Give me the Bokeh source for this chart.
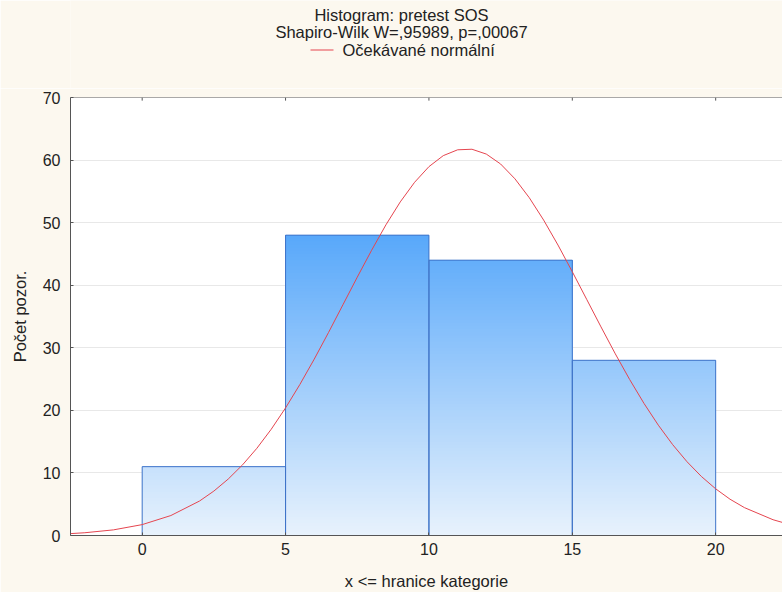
from bokeh.plotting import figure
from bokeh.layouts import column
from bokeh.models import LinearAxis, FixedTicker, Span
from bokeh.core.properties import value
from bokeh.embed import file_html
from bokeh.resources import INLINE

# ---- data ----
bin_left = [0, 5, 10, 15]
bin_right = [5, 10, 15, 20]
counts = [11, 48, 44, 28]

curve_x = [-2.5, -2, -1, 0, 1, 2, 2.5, 3, 3.5, 4, 4.5, 5, 5.5, 6, 6.5, 7, 7.5, 8, 8.5, 9, 9.5,
           10, 10.5, 11, 11.5, 12, 12.5, 13, 13.5, 14, 14.5, 15, 15.5, 16, 16.5, 17, 17.5,
           18, 18.5, 19, 19.5, 20, 20.5, 21, 22, 22.5]
curve_y = [0.30, 0.44, 0.90, 1.74, 3.19, 5.51, 7.10, 9.02, 11.29, 13.94, 16.98, 20.39, 24.14,
           28.19, 32.46, 36.87, 41.28, 45.58, 49.65, 53.31, 56.45, 58.95, 60.71, 61.64, 61.73,
           60.96, 59.37, 57.00, 53.98, 50.41, 46.42, 42.15, 37.75, 33.34, 29.03, 24.93, 21.11,
           17.63, 14.52, 11.79, 9.44, 7.46, 5.80, 4.46, 2.52, 1.86]

x_ticks = [0, 5, 10, 15, 20]
y_ticks = [0, 10, 20, 30, 40, 50, 60, 70]

title1 = "Histogram: pretest SOS"
title2 = "Shapiro-Wilk W=,95989, p=,00067"
legend_label = "Očekávané normální"
x_label = "x <= hranice kategorie"
y_label = "Počet pozor."

FONT = "Liberation Sans"
TXT = "#222222"
BG = "#fcf8ef"
RED = "#e5454f"
AX = "#555555"
FS_T = "16.5px"
FS_TICK = "16px"

W = 782
LEFT = 70
HEAD_H = 88
Y_MAX = 70

# ---- header (titles + legend), coordinates in page pixels ----
h = figure(width=W, height=HEAD_H, x_range=(LEFT, W), y_range=(0, HEAD_H),
           output_backend="svg", toolbar_location=None,
           min_border_left=LEFT, min_border_right=0, min_border_top=0, min_border_bottom=0,
           x_axis_location=None, y_axis_location=None)
h.grid.visible = False
h.outline_line_color = None
h.background_fill_color = BG
h.border_fill_color = BG
h.text(x=[401, 401], y=[HEAD_H - 14, HEAD_H - 31], text=[title1, title2],
       text_align="center", text_baseline="middle", text_font=value(FONT),
       text_font_size=FS_T, text_color=TXT)
h.text(x=[342], y=[HEAD_H - 49], text=[legend_label], text_align="left",
       text_baseline="middle", text_font=value(FONT), text_font_size=FS_T, text_color=TXT)
h.line(x=[310, 333], y=[HEAD_H - 49.5, HEAD_H - 49.5], line_color=RED, line_width=1)

# ---- main histogram ----
p = figure(width=W, height=592 - HEAD_H, x_range=(-2.5, 22.33), y_range=(0, Y_MAX),
           output_backend="svg", toolbar_location=None,
           min_border_left=LEFT, min_border_right=0, min_border_top=9, min_border_bottom=56,
           x_axis_location=None, y_axis_location=None)
p.background_fill_color = "white"
p.border_fill_color = BG
p.outline_line_color = None

# gradient-filled bars: overlapping slices coloured by height
c_lo = (232, 242, 252)
c_hi = (88, 168, 250)
def col(yv):
    t = min(max(yv / 48.0, 0.0), 1.0)
    r = round(c_lo[0] + (c_hi[0] - c_lo[0]) * t)
    g = round(c_lo[1] + (c_hi[1] - c_lo[1]) * t)
    b = round(c_lo[2] + (c_hi[2] - c_lo[2]) * t)
    return "#%02x%02x%02x" % (r, g, b)

sl, sr, sb, st, sc = [], [], [], [], []
step = 0.5
for l, r, c in zip(bin_left, bin_right, counts):
    yb = 0.0
    while yb < c - 1e-9:
        sl.append(l); sr.append(r); sb.append(yb); st.append(c)
        sc.append(col(min(yb + step / 2, c)))
        yb += step
p.quad(left=sl, right=sr, bottom=sb, top=st, fill_color=sc, line_alpha=0)
p.quad(left=bin_left, right=bin_right, bottom=[0] * len(counts), top=counts,
       fill_alpha=0, line_color="#3f74c9", line_width=1)

p.line(curve_x, curve_y, line_color=RED, line_width=1)

# grid
p.xgrid.visible = False
p.ygrid.ticker = FixedTicker(ticks=y_ticks)
p.ygrid.grid_line_color = "#e8e8e8"

# axes
def style_axis(ax):
    ax.axis_line_color = AX
    ax.major_tick_line_color = AX
    ax.minor_tick_line_color = None
    ax.major_label_text_font = FONT
    ax.major_label_text_font_size = FS_TICK
    ax.major_label_text_color = TXT
    ax.axis_label_text_font = FONT
    ax.axis_label_text_font_size = FS_T
    ax.axis_label_text_font_style = "normal"
    ax.axis_label_text_color = TXT

xa = LinearAxis(ticker=FixedTicker(ticks=x_ticks), axis_label=x_label)
style_axis(xa)
xa.major_tick_in = 3
xa.major_tick_out = 0
xa.major_label_standoff = 7
xa.axis_label_standoff = 14
p.add_layout(xa, "below")

ya = LinearAxis(ticker=FixedTicker(ticks=y_ticks), axis_label=y_label)
style_axis(ya)
ya.major_tick_in = 3
ya.major_tick_out = 0
ya.major_label_standoff = 10
ya.axis_label_standoff = 11
p.add_layout(ya, "left")

# top frame line with short inward tick marks
p.add_layout(Span(location=Y_MAX, dimension="width", line_color=AX, line_width=1))
p.segment(x0=x_ticks, y0=[Y_MAX] * len(x_ticks), x1=x_ticks,
          y1=[Y_MAX - 0.5] * len(x_ticks), line_color=AX, line_width=1)

layout = column(h, p, spacing=0)
open("out.html", "w").write(file_html(layout, INLINE))
